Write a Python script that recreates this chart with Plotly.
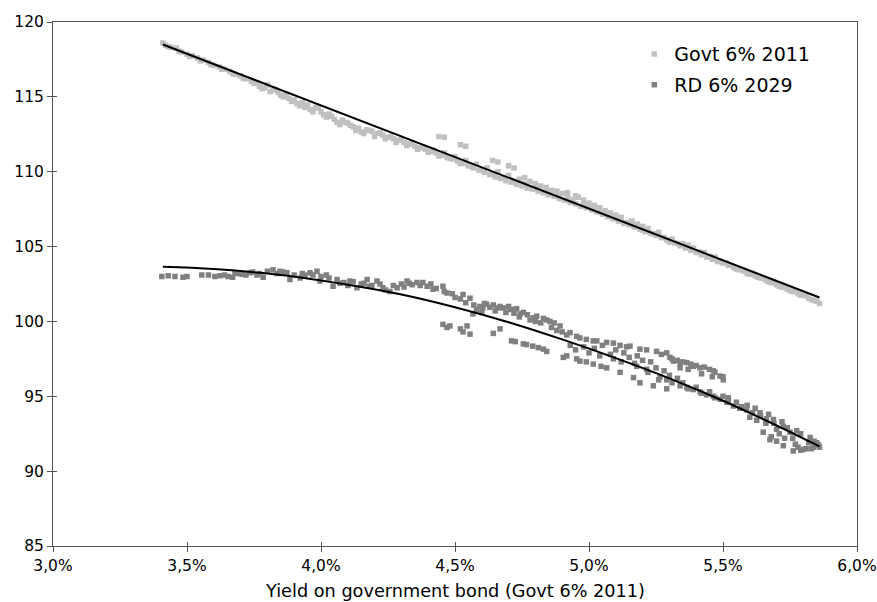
import plotly.graph_objects as go

# ---- Data ----
x_tick_vals = [3.0, 3.5, 4.0, 4.5, 5.0, 5.5, 6.0]
x_tick_text = ["3,0%", "3,5%", "4,0%", "4,5%", "5,0%", "5,5%", "6,0%"]
y_tick_vals = [85, 90, 95, 100, 105, 110, 115, 120]

govt_x = [3.41, 3.42, 3.44, 3.46, 3.48, 3.50, 3.52, 3.54, 3.56, 3.58, 3.60, 3.62, 3.64, 3.66, 3.68,
          3.70, 3.72, 3.74, 3.76, 3.77, 3.79, 3.80, 3.82, 3.84, 3.85, 3.87, 3.88, 3.90, 3.91, 3.93,
          3.95, 3.96, 3.98, 4.00, 4.01, 4.03, 4.05, 4.06, 4.08, 4.10, 4.12, 4.14, 4.15, 4.17, 4.19,
          4.21, 4.23, 4.25, 4.27, 4.29, 4.31, 4.33, 4.35, 4.37, 4.39, 4.41, 4.43, 4.44, 4.46, 4.45,
          4.47, 4.49, 4.51, 4.52, 4.54, 4.53, 4.55, 4.57, 4.59, 4.61, 4.63, 4.64, 4.66, 4.65, 4.67,
          4.69, 4.70, 4.72, 4.71, 4.73, 4.75, 4.76, 4.77, 4.79, 4.80, 4.81, 4.83, 4.84, 4.85, 4.87,
          4.88, 4.89, 4.91, 4.92, 4.93, 4.95, 4.95, 4.97, 4.98, 4.99, 5.00, 5.01, 5.02, 5.03, 5.04,
          5.05, 5.06, 5.07, 5.08, 5.09, 5.10, 5.11, 5.12, 5.13, 5.15, 5.16, 5.17, 5.19, 5.20, 5.21,
          5.23, 5.25, 5.27, 5.29, 5.30, 5.32, 5.34, 5.36, 5.37, 5.38, 5.40, 5.42, 5.44, 5.46, 5.48,
          5.50, 5.52, 5.54, 5.56, 5.58, 5.60, 5.62, 5.64, 5.66, 5.68, 5.70, 5.72, 5.74, 5.76, 5.78,
          5.80, 5.82, 5.84, 5.86,
          3.43, 3.47, 3.51, 3.55, 3.59, 3.63, 3.67, 3.71, 3.75, 3.78, 3.81, 3.83, 3.86, 3.89, 3.92,
          3.94, 3.97, 3.99, 4.02, 4.04, 4.07, 4.09, 4.11, 4.13, 4.16, 4.18, 4.20, 4.22, 4.24, 4.26,
          4.28, 4.30, 4.32, 4.34, 4.36, 4.38, 4.40, 4.42, 4.44, 4.46, 4.48, 4.50, 4.52, 4.54, 4.56,
          4.58, 4.60, 4.62, 4.64, 4.66, 4.68, 4.70, 4.72, 4.74, 4.76, 4.78, 4.80, 4.82, 4.84, 4.86,
          4.88, 4.90, 4.92, 4.94, 4.96, 4.98, 5.00, 5.02, 5.04, 5.06, 5.08, 5.10, 5.12, 5.14, 5.16,
          5.18, 5.20, 5.22, 5.24, 5.26, 5.28, 5.31, 5.33, 5.35, 5.39, 5.41, 5.43, 5.45, 5.47, 5.49,
          5.51, 5.53, 5.55, 5.57, 5.59, 5.61, 5.63, 5.65, 5.67, 5.69, 5.71, 5.73, 5.75, 5.77, 5.79,
          5.81, 5.83, 5.85]
govt_y = [118.6, 118.45, 118.3, 118.25, 118.0, 117.85, 117.75, 117.6, 117.45, 117.3, 117.1, 117.0, 116.85, 116.7, 116.5,
          116.4, 116.2, 116.05, 115.95, 115.7, 115.6, 115.8, 115.45, 115.3, 115.1, 115.15, 114.9, 114.8, 114.55, 114.6,
          114.45, 114.15, 114.3, 114.0, 113.8, 113.85, 113.5, 113.3, 113.45, 113.25, 113.0, 112.9, 112.65, 112.8, 112.7,
          112.55, 112.45, 112.3, 112.2, 112.1, 111.95, 111.85, 111.7, 111.6, 111.5, 111.35, 111.25, 112.35, 112.3, 111.1,
          110.95, 110.85, 110.7, 111.8, 111.7, 110.55, 110.4, 110.25, 110.1, 109.95, 109.8, 110.75, 110.65, 109.65, 109.55,
          109.4, 110.4, 110.25, 109.3, 109.15, 109.05, 109.6, 108.9, 108.85, 109.2, 108.7, 108.6, 108.95, 108.45, 108.35,
          108.7, 108.2, 108.1, 108.6, 107.95, 107.85, 108.4, 107.7, 108.1, 107.6, 107.9, 107.45, 107.75, 107.3, 107.6,
          107.15, 107.4, 107.0, 107.25, 106.85, 107.1, 106.7, 106.95, 106.55, 106.45, 106.7, 106.3, 106.15, 106.35, 106.0,
          105.9, 105.75, 105.6, 105.45, 105.3, 105.25, 105.05, 104.9, 105.1, 104.75, 104.6, 104.45, 104.3, 104.15, 104.0,
          103.9, 103.75, 103.6, 103.45, 103.35, 103.15, 103.05, 102.9, 102.75, 102.6, 102.45, 102.3, 102.15, 102.0, 101.85,
          101.75, 101.55, 101.4, 101.2,
          118.35, 118.05, 117.7, 117.4, 117.15, 116.85, 116.55, 116.25, 115.9, 115.55, 115.35, 115.5, 115.0, 114.7, 114.4,
          114.3, 114.0, 114.25, 113.65, 113.7, 113.15, 113.3, 113.1, 112.75, 112.55, 112.75, 112.35, 112.6, 112.2, 112.35,
          111.95, 112.15, 111.75, 111.9, 111.5, 111.65, 111.3, 111.45, 111.05, 111.25, 110.9, 111.0, 110.55, 110.75, 110.35,
          110.5, 110.1, 110.25, 109.85, 110.0, 109.6, 109.75, 109.35, 109.5, 109.2, 109.35, 108.85, 109.05, 108.7, 108.75,
          108.4, 108.55, 108.3, 108.15, 108.3, 107.8, 107.65, 107.5, 107.35, 107.2, 107.05, 106.9, 106.75, 106.6, 106.45,
          106.5, 106.1, 106.2, 105.85, 105.95, 105.6, 105.5, 105.2, 105.2, 104.9, 104.65, 104.6, 104.35, 104.3, 104.0,
          103.9, 103.75, 103.5, 103.45, 103.2, 103.2, 102.95, 102.9, 102.65, 102.6, 102.35, 102.3, 102.05, 102.0, 101.75,
          101.7, 101.45, 101.35]

rd_x = [3.406, 3.455, 3.485, 3.555, 3.604, 3.623, 3.653, 3.679, 3.705, 3.735, 3.761, 3.784, 3.821, 3.847, 3.873,
        3.884, 3.922, 3.940, 3.959, 3.985, 3.996, 4.020, 4.045, 4.060, 4.085, 4.108, 4.134, 4.150, 4.172, 4.190,
        4.209, 4.231, 4.257, 4.284, 4.300, 4.321, 4.340, 4.358, 4.396, 4.418, 4.455, 4.470, 4.455, 4.481, 4.530,
        4.530, 4.545, 4.556, 4.556, 4.567, 4.593, 4.604, 4.618, 4.643, 4.643, 4.668, 4.668, 4.680, 4.705, 4.711,
        4.718, 4.743, 4.755, 4.755, 4.767, 4.792, 4.805, 4.811, 4.830, 4.842, 4.842, 4.854, 4.892, 4.904, 4.917,
        4.917, 4.929, 4.954, 4.954, 4.966, 4.966, 4.990, 4.990, 5.016, 5.016, 5.029, 5.045, 5.066, 5.066, 5.091,
        5.091, 5.116, 5.116, 5.140, 5.153, 5.166, 5.178, 5.190, 5.190, 5.215, 5.215, 5.240, 5.252, 5.265, 5.290,
        5.290, 5.302, 5.315, 5.340, 5.340, 5.365, 5.365, 5.389, 5.389, 5.414, 5.414, 5.439, 5.464, 5.464, 5.489,
        5.489, 5.501, 5.515, 5.539, 5.563, 5.588, 5.600, 5.626, 5.638, 5.650, 5.662, 5.675, 5.688, 5.700, 5.725,
        5.725, 5.750, 5.762, 5.775, 5.790, 5.800, 5.825, 5.838, 5.850, 5.856,
        3.43, 3.50, 3.58, 3.64, 3.67, 3.69, 3.72, 3.745, 3.77, 3.80, 3.835, 3.86, 3.90, 3.93, 3.97,
        4.00, 4.03, 4.07, 4.10, 4.12, 4.16, 4.18, 4.22, 4.24, 4.27, 4.31, 4.33, 4.37, 4.38, 4.41,
        4.43, 4.46, 4.49, 4.50, 4.52, 4.54, 4.57, 4.58, 4.60, 4.61, 4.63, 4.65, 4.66, 4.69, 4.70,
        4.72, 4.73, 4.74, 4.77, 4.78, 4.80, 4.82, 4.83, 4.86, 4.87, 4.88, 4.90, 4.47, 4.52, 4.725,
        4.79, 4.93, 4.95, 4.98, 5.00, 5.02, 5.04, 5.05, 5.08, 5.10, 5.12, 5.13, 5.15, 5.17, 5.18,
        5.20, 5.22, 5.23, 5.25, 5.26, 5.28, 5.30, 5.31, 5.33, 5.35, 5.37, 5.40, 5.42, 5.45, 5.47,
        5.50, 5.52, 5.27, 5.29, 5.31, 5.33, 5.35, 5.38, 5.40, 5.43, 5.45, 5.47, 5.50, 5.34, 5.37,
        5.42, 5.46, 5.52, 5.55, 5.57, 5.59, 5.61, 5.62, 5.64, 5.66, 5.67, 5.69, 5.71, 5.72, 5.73,
        5.74, 5.76, 5.78, 5.79, 5.81, 5.82, 5.83, 5.84, 5.86, 5.68, 5.70, 5.77]
rd_y = [103.0, 103.0, 102.95, 103.1, 103.0, 103.05, 103.0, 103.25, 103.15, 103.25, 103.1, 102.95, 103.45, 103.35, 103.25,
        102.8, 102.9, 103.1, 103.25, 103.35, 102.7, 103.1, 102.35, 102.8, 102.6, 102.7, 102.25, 102.5, 102.8, 102.4,
        102.7, 102.25, 102.0, 102.25, 102.5, 102.7, 102.45, 102.6, 102.35, 102.15, 102.35, 101.9, 99.8, 99.7, 101.8,
        99.3, 99.7, 101.55, 99.15, 100.5, 101.0, 100.9, 101.15, 101.1, 99.2, 101.0, 99.5, 100.9, 100.8, 98.7,
        100.8, 100.5, 100.6, 98.5, 98.45, 100.25, 100.35, 98.25, 98.15, 100.1, 98.0, 100.0, 99.7, 97.6, 99.1,
        97.7, 99.25, 99.0, 97.5, 98.9, 97.35, 98.8, 97.3, 98.7, 97.15, 98.7, 97.0, 98.6, 96.9, 98.55,
        97.5, 98.4, 96.6, 98.3, 98.35, 96.25, 97.0, 98.15, 95.9, 98.1, 96.8, 95.7, 98.0, 96.3, 96.1,
        95.5, 97.6, 97.35, 97.2, 95.7, 97.25, 95.6, 97.0, 95.45, 96.9, 95.3, 95.1, 96.7, 95.0, 96.35,
        94.8, 96.1, 94.6, 94.35, 94.2, 94.1, 93.6, 93.4, 93.9, 92.6, 93.5, 92.1, 93.45, 92.8, 93.0,
        91.7, 92.6, 91.35, 92.7, 91.4, 91.45, 92.25, 91.6, 91.9, 91.75,
        103.05, 103.0, 103.1, 103.1, 102.95, 103.2, 103.1, 103.3, 103.2, 103.35, 103.2, 103.3, 103.1, 103.2, 103.1,
        103.0, 102.9, 102.55, 102.4, 102.65, 102.55, 102.35, 102.5, 102.1, 102.4, 102.3, 102.55, 102.4, 102.6, 102.5,
        102.2, 102.0, 101.85, 101.6, 101.5, 101.25, 101.1, 100.8, 100.6, 101.2, 100.95, 100.7, 100.9, 100.6, 101.0,
        100.55, 100.85, 100.3, 100.45, 100.1, 100.0, 99.9, 100.2, 99.6, 99.9, 99.4, 99.3, 99.6, 99.5, 98.65,
        98.35, 98.4, 98.1, 98.3, 97.9, 98.2, 97.7, 98.4, 97.8, 98.1, 97.3, 97.9, 97.6, 97.2, 97.7,
        97.4, 96.6, 97.3, 96.9, 96.1, 96.7, 96.4, 95.9, 96.2, 95.9, 95.5, 95.6, 95.2, 95.3, 94.9,
        95.0, 94.7, 97.8, 97.9, 97.5, 97.4, 97.3, 97.15, 97.05, 96.95, 96.8, 96.6, 96.3, 96.9, 96.8,
        96.5, 96.3, 94.9, 94.6, 94.3, 94.4, 93.9, 94.2, 93.7, 93.2, 93.8, 93.2, 92.5, 93.3, 92.2,
        92.9, 92.2, 91.6, 92.5, 91.5, 91.9, 91.5, 92.0, 91.6, 92.3, 92.0, 91.8]

# trend lines
govt_trend_x = [3.41, 5.86]
govt_trend_y = [118.5, 101.6]
rd_trend_x = [3.41, 3.60, 3.85, 4.10, 4.30, 4.50, 4.70, 4.90, 5.10, 5.30, 5.50, 5.70, 5.86]
rd_trend_y = [103.65, 103.5, 103.1, 102.45, 101.8, 100.95, 99.95, 98.8, 97.55, 96.2, 94.7, 93.05, 91.65]

FONT = "DejaVu Sans"
AX_COLOR = "#555555"

fig = go.Figure()
fig.add_trace(go.Scatter(x=govt_x, y=govt_y, mode="markers", name="Govt 6% 2011", legendgroup="g1",
                         marker=dict(symbol="square", size=5.5, color="#C0C0C0", line=dict(width=0))))
fig.add_trace(go.Scatter(x=rd_x, y=rd_y, mode="markers", name="RD 6% 2029", legendgroup="g2",
                         marker=dict(symbol="square", size=5.5, color="#808080", line=dict(width=0))))
fig.add_trace(go.Scatter(x=govt_trend_x, y=govt_trend_y, mode="lines", showlegend=False,
                         line=dict(color="black", width=2)))
fig.add_trace(go.Scatter(x=rd_trend_x, y=rd_trend_y, mode="lines", showlegend=False,
                         line=dict(color="black", width=2, shape="spline")))
# carrier for the overlay axes that draw the inner half of the crossing ticks
fig.add_trace(go.Scatter(x=[], y=[], xaxis="x2", yaxis="y2", showlegend=False, hoverinfo="skip"))

fig.update_layout(
    width=877, height=602,
    margin=dict(l=53, r=20, t=22, b=56),
    paper_bgcolor="white", plot_bgcolor="white",
    font=dict(family=FONT, color="black"),
    showlegend=True,
    legend=dict(x=0.723, y=0.975, xanchor="left", yanchor="top",
                font=dict(family=FONT, size=19, color="black"),
                bgcolor="rgba(0,0,0,0)", tracegroupgap=3, traceorder="grouped"),
    xaxis=dict(range=[3.0, 6.0], tickvals=x_tick_vals, ticktext=x_tick_text,
               ticks="outside", ticklen=5, tickwidth=1, tickcolor=AX_COLOR,
               showline=True, linecolor=AX_COLOR, linewidth=1, mirror=True,
               showgrid=False, zeroline=False, automargin=False,
               tickfont=dict(family=FONT, size=15.5, color="black")),
    yaxis=dict(range=[85, 120], tickvals=y_tick_vals,
               ticks="outside", ticklen=5, tickwidth=1, tickcolor=AX_COLOR,
               showline=True, linecolor=AX_COLOR, linewidth=1, mirror=True,
               showgrid=False, zeroline=False, automargin=False,
               tickfont=dict(family=FONT, size=15.5, color="black")),
    xaxis2=dict(range=[3.0, 6.0], tickvals=x_tick_vals, overlaying="x", anchor="y2", side="bottom",
                ticks="inside", ticklen=4, tickwidth=1, tickcolor=AX_COLOR, automargin=False,
                showticklabels=False, showline=False, showgrid=False, zeroline=False),
    yaxis2=dict(range=[85, 120], tickvals=y_tick_vals, overlaying="y", anchor="x2", side="left",
                ticks="inside", ticklen=4, tickwidth=1, tickcolor=AX_COLOR, automargin=False,
                showticklabels=False, showline=False, showgrid=False, zeroline=False),
    annotations=[dict(text="Yield on government bond (Govt 6% 2011)", xref="paper", yref="paper",
                      x=0.5, y=-0.086, xanchor="center", yanchor="middle", showarrow=False,
                      font=dict(family=FONT, size=17.7, color="black"))],
)

fig.write_html("out.html")
